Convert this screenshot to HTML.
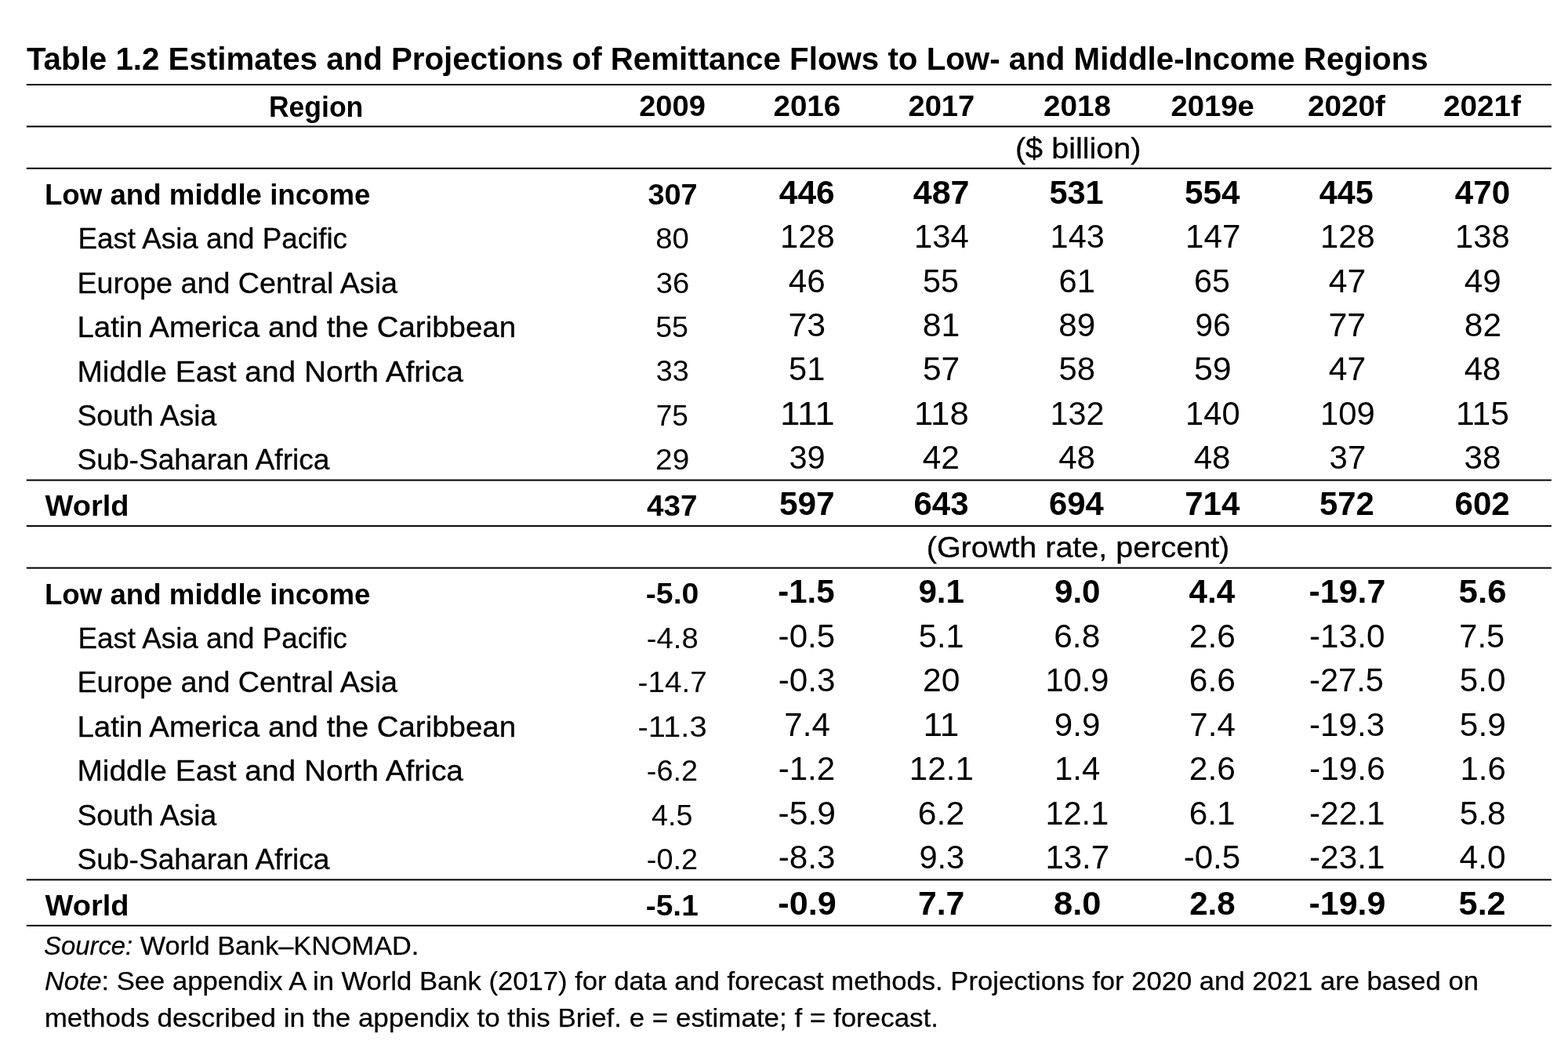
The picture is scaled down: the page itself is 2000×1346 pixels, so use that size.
<!DOCTYPE html>
<html lang="en"><head><meta charset="utf-8"><title>Table 1.2 Estimates and Projections of Remittance Flows</title>
<style>html,body{margin:0;padding:0;background:#fff}body{width:2000px;height:1346px;overflow:hidden}svg{display:block}text{font-family:"Liberation Sans",sans-serif;fill:#000;white-space:pre}.b{font-weight:bold}.i{font-style:italic}</style>
</head><body>
<svg width="2000" height="1346" viewBox="0 0 2000 1346">
<rect x="0" y="0" width="2000" height="1346" fill="#ffffff"/>
<rect x="33.8" y="107.0" width="1945.1" height="2" fill="#000"/>
<rect x="33.8" y="160.4" width="1945.1" height="2" fill="#000"/>
<rect x="33.8" y="213.8" width="1945.1" height="2" fill="#000"/>
<rect x="33.8" y="611.6" width="1945.1" height="2" fill="#000"/>
<rect x="33.8" y="670.1" width="1945.1" height="2" fill="#000"/>
<rect x="33.8" y="723.6" width="1945.1" height="2" fill="#000"/>
<rect x="33.8" y="1121.4" width="1945.1" height="2" fill="#000"/>
<rect x="33.8" y="1179.9" width="1945.1" height="2" fill="#000"/>
<text class="b" x="34.00" y="89.45" font-size="41.50" textLength="1787.75" lengthAdjust="spacingAndGlyphs">Table 1.2 Estimates and Projections of Remittance Flows to Low- and Middle-Income Regions</text>
<text class="b" x="342.93" y="148.60" font-size="37.30" textLength="120.41" lengthAdjust="spacingAndGlyphs">Region</text>
<text class="b" x="815.23" y="148.40" font-size="37.80" textLength="84.57" lengthAdjust="spacingAndGlyphs">2009</text>
<text class="b" x="986.45" y="148.40" font-size="37.80" textLength="85.83" lengthAdjust="spacingAndGlyphs">2016</text>
<text class="b" x="1158.44" y="148.40" font-size="37.80" textLength="84.86" lengthAdjust="spacingAndGlyphs">2017</text>
<text class="b" x="1330.94" y="148.40" font-size="37.80" textLength="86.09" lengthAdjust="spacingAndGlyphs">2018</text>
<text class="b" x="1493.47" y="148.40" font-size="37.80" textLength="106.30" lengthAdjust="spacingAndGlyphs">2019e</text>
<text class="b" x="1667.98" y="148.40" font-size="37.80" textLength="99.02" lengthAdjust="spacingAndGlyphs">2020f</text>
<text class="b" x="1840.97" y="148.40" font-size="37.80" textLength="99.03" lengthAdjust="spacingAndGlyphs">2021f</text>
<text x="1294.94" y="201.90" font-size="37.30" stroke="#000" stroke-width="0.30" textLength="160.62" lengthAdjust="spacingAndGlyphs">($ billion)</text>
<text x="1181.72" y="711.25" font-size="37.30" stroke="#000" stroke-width="0.30" textLength="386.55" lengthAdjust="spacingAndGlyphs">(Growth rate, percent)</text>
<text class="b" x="56.98" y="260.90" font-size="37.30" textLength="415.53" lengthAdjust="spacingAndGlyphs">Low and middle income</text>
<text class="b" x="826.38" y="260.70" font-size="37.80" textLength="63.26" lengthAdjust="spacingAndGlyphs">307</text>
<text class="b" x="993.76" y="259.70" font-size="41.60" textLength="70.92" lengthAdjust="spacingAndGlyphs">446</text>
<text class="b" x="1164.76" y="259.70" font-size="41.60" textLength="71.82" lengthAdjust="spacingAndGlyphs">487</text>
<text class="b" x="1338.45" y="259.70" font-size="41.60" textLength="69.24" lengthAdjust="spacingAndGlyphs">531</text>
<text class="b" x="1510.93" y="259.70" font-size="41.60" textLength="70.44" lengthAdjust="spacingAndGlyphs">554</text>
<text class="b" x="1682.76" y="259.70" font-size="41.60" textLength="68.94" lengthAdjust="spacingAndGlyphs">445</text>
<text class="b" x="1855.74" y="259.70" font-size="41.60" textLength="70.52" lengthAdjust="spacingAndGlyphs">470</text>
<text x="99.48" y="317.30" font-size="37.30" stroke="#000" stroke-width="0.30" textLength="343.53" lengthAdjust="spacingAndGlyphs">East Asia and Pacific</text>
<text x="836.19" y="317.10" font-size="37.80" textLength="42.58" lengthAdjust="spacingAndGlyphs">80</text>
<text x="995.06" y="316.10" font-size="41.60" textLength="69.65" lengthAdjust="spacingAndGlyphs">128</text>
<text x="1166.12" y="316.10" font-size="41.60" textLength="69.72" lengthAdjust="spacingAndGlyphs">134</text>
<text x="1339.60" y="316.10" font-size="41.60" textLength="69.19" lengthAdjust="spacingAndGlyphs">143</text>
<text x="1512.05" y="316.10" font-size="41.60" textLength="70.44" lengthAdjust="spacingAndGlyphs">147</text>
<text x="1684.04" y="316.10" font-size="41.60" textLength="69.65" lengthAdjust="spacingAndGlyphs">128</text>
<text x="1856.01" y="316.10" font-size="41.60" textLength="69.76" lengthAdjust="spacingAndGlyphs">138</text>
<text x="98.47" y="373.70" font-size="37.30" stroke="#000" stroke-width="0.30" textLength="408.53" lengthAdjust="spacingAndGlyphs">Europe and Central Asia</text>
<text x="836.69" y="373.50" font-size="37.80" textLength="42.51" lengthAdjust="spacingAndGlyphs">36</text>
<text x="1005.71" y="372.50" font-size="41.60" textLength="46.93" lengthAdjust="spacingAndGlyphs">46</text>
<text x="1176.93" y="372.50" font-size="41.60" textLength="46.01" lengthAdjust="spacingAndGlyphs">55</text>
<text x="1350.45" y="372.50" font-size="41.60" textLength="46.41" lengthAdjust="spacingAndGlyphs">61</text>
<text x="1522.93" y="372.50" font-size="41.60" textLength="46.01" lengthAdjust="spacingAndGlyphs">65</text>
<text x="1694.70" y="372.50" font-size="41.60" textLength="47.52" lengthAdjust="spacingAndGlyphs">47</text>
<text x="1867.70" y="372.50" font-size="41.60" textLength="46.91" lengthAdjust="spacingAndGlyphs">49</text>
<text x="98.46" y="430.15" font-size="37.30" stroke="#000" stroke-width="0.30" textLength="559.56" lengthAdjust="spacingAndGlyphs">Latin America and the Caribbean</text>
<text x="836.14" y="429.95" font-size="37.80" textLength="41.81" lengthAdjust="spacingAndGlyphs">55</text>
<text x="1005.47" y="428.95" font-size="41.60" textLength="47.68" lengthAdjust="spacingAndGlyphs">73</text>
<text x="1176.81" y="428.95" font-size="41.60" textLength="47.59" lengthAdjust="spacingAndGlyphs">81</text>
<text x="1350.29" y="428.95" font-size="41.60" textLength="46.83" lengthAdjust="spacingAndGlyphs">89</text>
<text x="1524.58" y="428.95" font-size="41.60" textLength="45.11" lengthAdjust="spacingAndGlyphs">96</text>
<text x="1694.44" y="428.95" font-size="41.60" textLength="47.86" lengthAdjust="spacingAndGlyphs">77</text>
<text x="1867.78" y="428.95" font-size="41.60" textLength="47.22" lengthAdjust="spacingAndGlyphs">82</text>
<text x="98.48" y="486.60" font-size="37.30" stroke="#000" stroke-width="0.30" textLength="492.52" lengthAdjust="spacingAndGlyphs">Middle East and North Africa</text>
<text x="836.70" y="486.40" font-size="37.80" textLength="41.94" lengthAdjust="spacingAndGlyphs">33</text>
<text x="1006.02" y="485.40" font-size="41.60" textLength="46.33" lengthAdjust="spacingAndGlyphs">51</text>
<text x="1176.93" y="485.40" font-size="41.60" textLength="47.29" lengthAdjust="spacingAndGlyphs">57</text>
<text x="1350.46" y="485.40" font-size="41.60" textLength="46.48" lengthAdjust="spacingAndGlyphs">58</text>
<text x="1522.91" y="485.40" font-size="41.60" textLength="47.75" lengthAdjust="spacingAndGlyphs">59</text>
<text x="1694.70" y="485.40" font-size="41.60" textLength="47.52" lengthAdjust="spacingAndGlyphs">47</text>
<text x="1867.70" y="485.40" font-size="41.60" textLength="46.74" lengthAdjust="spacingAndGlyphs">48</text>
<text x="98.48" y="543.00" font-size="37.30" stroke="#000" stroke-width="0.30" textLength="177.76" lengthAdjust="spacingAndGlyphs">South Asia</text>
<text x="836.69" y="542.80" font-size="37.80" textLength="41.23" lengthAdjust="spacingAndGlyphs">75</text>
<text x="995.05" y="541.80" font-size="41.60" textLength="69.57" lengthAdjust="spacingAndGlyphs">111</text>
<text x="1166.07" y="541.80" font-size="41.60" textLength="69.65" lengthAdjust="spacingAndGlyphs">118</text>
<text x="1339.59" y="541.80" font-size="41.60" textLength="69.04" lengthAdjust="spacingAndGlyphs">132</text>
<text x="1512.11" y="541.80" font-size="41.60" textLength="69.47" lengthAdjust="spacingAndGlyphs">140</text>
<text x="1684.04" y="541.80" font-size="41.60" textLength="69.83" lengthAdjust="spacingAndGlyphs">109</text>
<text x="1857.04" y="541.80" font-size="41.60" textLength="68.09" lengthAdjust="spacingAndGlyphs">115</text>
<text x="98.49" y="599.40" font-size="37.30" stroke="#000" stroke-width="0.30" textLength="322.01" lengthAdjust="spacingAndGlyphs">Sub-Saharan Africa</text>
<text x="836.13" y="599.20" font-size="37.80" textLength="43.08" lengthAdjust="spacingAndGlyphs">29</text>
<text x="1006.52" y="598.20" font-size="41.60" textLength="46.15" lengthAdjust="spacingAndGlyphs">39</text>
<text x="1176.65" y="598.20" font-size="41.60" textLength="47.26" lengthAdjust="spacingAndGlyphs">42</text>
<text x="1350.16" y="598.20" font-size="41.60" textLength="46.84" lengthAdjust="spacingAndGlyphs">48</text>
<text x="1522.67" y="598.20" font-size="41.60" textLength="46.82" lengthAdjust="spacingAndGlyphs">48</text>
<text x="1695.58" y="598.20" font-size="41.60" textLength="46.66" lengthAdjust="spacingAndGlyphs">37</text>
<text x="1867.53" y="598.20" font-size="41.60" textLength="46.98" lengthAdjust="spacingAndGlyphs">38</text>
<text class="b" x="57.50" y="658.40" font-size="37.30" textLength="107.06" lengthAdjust="spacingAndGlyphs">World</text>
<text class="b" x="825.09" y="658.20" font-size="37.80" textLength="64.55" lengthAdjust="spacingAndGlyphs">437</text>
<text class="b" x="993.91" y="657.20" font-size="41.60" textLength="70.67" lengthAdjust="spacingAndGlyphs">597</text>
<text class="b" x="1165.51" y="657.20" font-size="41.60" textLength="70.02" lengthAdjust="spacingAndGlyphs">643</text>
<text class="b" x="1338.04" y="657.20" font-size="41.60" textLength="69.83" lengthAdjust="spacingAndGlyphs">694</text>
<text class="b" x="1511.24" y="657.20" font-size="41.60" textLength="70.13" lengthAdjust="spacingAndGlyphs">714</text>
<text class="b" x="1682.91" y="657.20" font-size="41.60" textLength="69.89" lengthAdjust="spacingAndGlyphs">572</text>
<text class="b" x="1855.52" y="657.20" font-size="41.60" textLength="70.29" lengthAdjust="spacingAndGlyphs">602</text>
<text class="b" x="56.98" y="770.65" font-size="37.30" textLength="415.53" lengthAdjust="spacingAndGlyphs">Low and middle income</text>
<text class="b" x="823.76" y="770.45" font-size="37.80" textLength="67.67" lengthAdjust="spacingAndGlyphs">-5.0</text>
<text class="b" x="992.25" y="769.45" font-size="41.60" textLength="72.43" lengthAdjust="spacingAndGlyphs">-1.5</text>
<text class="b" x="1171.40" y="769.45" font-size="41.60" textLength="58.63" lengthAdjust="spacingAndGlyphs">9.1</text>
<text class="b" x="1344.94" y="769.45" font-size="41.60" textLength="58.61" lengthAdjust="spacingAndGlyphs">9.0</text>
<text class="b" x="1516.51" y="769.45" font-size="41.60" textLength="58.64" lengthAdjust="spacingAndGlyphs">4.4</text>
<text class="b" x="1669.56" y="769.45" font-size="41.60" textLength="97.74" lengthAdjust="spacingAndGlyphs">-19.7</text>
<text class="b" x="1860.61" y="769.45" font-size="41.60" textLength="60.91" lengthAdjust="spacingAndGlyphs">5.6</text>
<text x="99.48" y="827.05" font-size="37.30" stroke="#000" stroke-width="0.30" textLength="343.53" lengthAdjust="spacingAndGlyphs">East Asia and Pacific</text>
<text x="824.85" y="826.85" font-size="37.80" textLength="65.80" lengthAdjust="spacingAndGlyphs">-4.8</text>
<text x="992.63" y="825.85" font-size="41.60" textLength="72.61" lengthAdjust="spacingAndGlyphs">-0.5</text>
<text x="1171.79" y="825.85" font-size="41.60" textLength="57.74" lengthAdjust="spacingAndGlyphs">5.1</text>
<text x="1344.26" y="825.85" font-size="41.60" textLength="58.98" lengthAdjust="spacingAndGlyphs">6.8</text>
<text x="1516.74" y="825.85" font-size="41.60" textLength="59.16" lengthAdjust="spacingAndGlyphs">2.6</text>
<text x="1670.03" y="825.85" font-size="41.60" textLength="96.47" lengthAdjust="spacingAndGlyphs">-13.0</text>
<text x="1861.30" y="825.85" font-size="41.60" textLength="57.76" lengthAdjust="spacingAndGlyphs">7.5</text>
<text x="98.47" y="883.45" font-size="37.30" stroke="#000" stroke-width="0.30" textLength="408.53" lengthAdjust="spacingAndGlyphs">Europe and Central Asia</text>
<text x="813.56" y="883.25" font-size="37.80" textLength="88.13" lengthAdjust="spacingAndGlyphs">-14.7</text>
<text x="992.65" y="882.25" font-size="41.60" textLength="72.75" lengthAdjust="spacingAndGlyphs">-0.3</text>
<text x="1176.94" y="882.25" font-size="41.60" textLength="47.46" lengthAdjust="spacingAndGlyphs">20</text>
<text x="1333.42" y="882.25" font-size="41.60" textLength="81.16" lengthAdjust="spacingAndGlyphs">10.9</text>
<text x="1516.74" y="882.25" font-size="41.60" textLength="59.16" lengthAdjust="spacingAndGlyphs">6.6</text>
<text x="1670.02" y="882.25" font-size="41.60" textLength="94.94" lengthAdjust="spacingAndGlyphs">-27.5</text>
<text x="1861.80" y="882.25" font-size="41.60" textLength="58.79" lengthAdjust="spacingAndGlyphs">5.0</text>
<text x="98.46" y="939.90" font-size="37.30" stroke="#000" stroke-width="0.30" textLength="559.56" lengthAdjust="spacingAndGlyphs">Latin America and the Caribbean</text>
<text x="813.55" y="939.70" font-size="37.80" textLength="88.07" lengthAdjust="spacingAndGlyphs">-11.3</text>
<text x="1000.38" y="938.70" font-size="41.60" textLength="58.45" lengthAdjust="spacingAndGlyphs">7.4</text>
<text x="1177.58" y="938.70" font-size="41.60" textLength="45.84" lengthAdjust="spacingAndGlyphs">11</text>
<text x="1344.86" y="938.70" font-size="41.60" textLength="58.57" lengthAdjust="spacingAndGlyphs">9.9</text>
<text x="1517.39" y="938.70" font-size="41.60" textLength="58.45" lengthAdjust="spacingAndGlyphs">7.4</text>
<text x="1670.02" y="938.70" font-size="41.60" textLength="96.16" lengthAdjust="spacingAndGlyphs">-19.3</text>
<text x="1861.78" y="938.70" font-size="41.60" textLength="59.09" lengthAdjust="spacingAndGlyphs">5.9</text>
<text x="98.48" y="996.35" font-size="37.30" stroke="#000" stroke-width="0.30" textLength="492.52" lengthAdjust="spacingAndGlyphs">Middle East and North Africa</text>
<text x="824.86" y="996.15" font-size="37.80" textLength="65.25" lengthAdjust="spacingAndGlyphs">-6.2</text>
<text x="992.65" y="995.15" font-size="41.60" textLength="72.60" lengthAdjust="spacingAndGlyphs">-1.2</text>
<text x="1159.87" y="995.15" font-size="41.60" textLength="81.97" lengthAdjust="spacingAndGlyphs">12.1</text>
<text x="1344.99" y="995.15" font-size="41.60" textLength="58.38" lengthAdjust="spacingAndGlyphs">1.4</text>
<text x="1516.74" y="995.15" font-size="41.60" textLength="59.16" lengthAdjust="spacingAndGlyphs">2.6</text>
<text x="1670.02" y="995.15" font-size="41.60" textLength="96.75" lengthAdjust="spacingAndGlyphs">-19.6</text>
<text x="1862.46" y="995.15" font-size="41.60" textLength="58.45" lengthAdjust="spacingAndGlyphs">1.6</text>
<text x="98.48" y="1052.75" font-size="37.30" stroke="#000" stroke-width="0.30" textLength="177.76" lengthAdjust="spacingAndGlyphs">South Asia</text>
<text x="830.94" y="1052.55" font-size="37.80" textLength="52.52" lengthAdjust="spacingAndGlyphs">4.5</text>
<text x="992.64" y="1051.55" font-size="41.60" textLength="73.36" lengthAdjust="spacingAndGlyphs">-5.9</text>
<text x="1170.72" y="1051.55" font-size="41.60" textLength="59.46" lengthAdjust="spacingAndGlyphs">6.2</text>
<text x="1333.41" y="1051.55" font-size="41.60" textLength="80.84" lengthAdjust="spacingAndGlyphs">12.1</text>
<text x="1516.74" y="1051.55" font-size="41.60" textLength="58.83" lengthAdjust="spacingAndGlyphs">6.1</text>
<text x="1670.01" y="1051.55" font-size="41.60" textLength="96.46" lengthAdjust="spacingAndGlyphs">-22.1</text>
<text x="1861.78" y="1051.55" font-size="41.60" textLength="58.91" lengthAdjust="spacingAndGlyphs">5.8</text>
<text x="98.49" y="1109.15" font-size="37.30" stroke="#000" stroke-width="0.30" textLength="322.01" lengthAdjust="spacingAndGlyphs">Sub-Saharan Africa</text>
<text x="824.86" y="1108.95" font-size="37.80" textLength="65.25" lengthAdjust="spacingAndGlyphs">-0.2</text>
<text x="992.65" y="1107.95" font-size="41.60" textLength="72.75" lengthAdjust="spacingAndGlyphs">-8.3</text>
<text x="1172.38" y="1107.95" font-size="41.60" textLength="57.92" lengthAdjust="spacingAndGlyphs">9.3</text>
<text x="1333.40" y="1107.95" font-size="41.60" textLength="81.77" lengthAdjust="spacingAndGlyphs">13.7</text>
<text x="1509.65" y="1107.95" font-size="41.60" textLength="72.59" lengthAdjust="spacingAndGlyphs">-0.5</text>
<text x="1670.01" y="1107.95" font-size="41.60" textLength="96.46" lengthAdjust="spacingAndGlyphs">-23.1</text>
<text x="1861.50" y="1107.95" font-size="41.60" textLength="59.06" lengthAdjust="spacingAndGlyphs">4.0</text>
<text class="b" x="57.50" y="1168.15" font-size="37.30" textLength="107.06" lengthAdjust="spacingAndGlyphs">World</text>
<text class="b" x="823.76" y="1167.95" font-size="37.80" textLength="67.02" lengthAdjust="spacingAndGlyphs">-5.1</text>
<text class="b" x="992.25" y="1166.95" font-size="41.60" textLength="74.41" lengthAdjust="spacingAndGlyphs">-0.9</text>
<text class="b" x="1170.96" y="1166.95" font-size="41.60" textLength="59.39" lengthAdjust="spacingAndGlyphs">7.7</text>
<text class="b" x="1344.13" y="1166.95" font-size="41.60" textLength="60.43" lengthAdjust="spacingAndGlyphs">8.0</text>
<text class="b" x="1517.23" y="1166.95" font-size="41.60" textLength="58.51" lengthAdjust="spacingAndGlyphs">2.8</text>
<text class="b" x="1669.57" y="1166.95" font-size="41.60" textLength="97.85" lengthAdjust="spacingAndGlyphs">-19.9</text>
<text class="b" x="1860.63" y="1166.95" font-size="41.60" textLength="60.00" lengthAdjust="spacingAndGlyphs">5.2</text>
<text class="i" x="55.97" y="1217.80" font-size="33.60" stroke="#000" stroke-width="0.25" textLength="113.30" lengthAdjust="spacingAndGlyphs">Source:</text>
<text x="178.75" y="1217.80" font-size="33.60" stroke="#000" stroke-width="0.25" textLength="355.53" lengthAdjust="spacingAndGlyphs">World Bank–KNOMAD.</text>
<text class="i" x="56.97" y="1263.30" font-size="33.60" stroke="#000" stroke-width="0.25" textLength="72.55" lengthAdjust="spacingAndGlyphs">Note</text>
<text x="129.49" y="1263.30" font-size="33.60" stroke="#000" stroke-width="0.25" textLength="1756.52" lengthAdjust="spacingAndGlyphs">: See appendix A in World Bank (2017) for data and forecast methods. Projections for 2020 and 2021 are based on</text>
<text x="56.74" y="1309.50" font-size="33.60" stroke="#000" stroke-width="0.25" textLength="1140.27" lengthAdjust="spacingAndGlyphs">methods described in the appendix to this Brief. e = estimate; f = forecast.</text>
</svg></body></html>
